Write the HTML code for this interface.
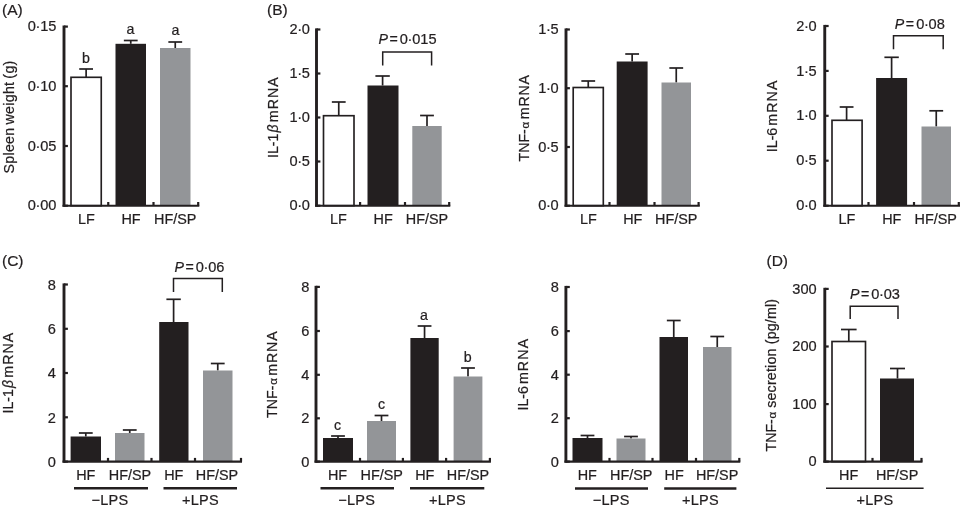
<!DOCTYPE html>
<html><head><meta charset="utf-8"><title>Figure</title>
<style>
html,body{margin:0;padding:0;background:#fff;}
svg{display:block;will-change:transform;opacity:0.999;}
text{font-family:"Liberation Sans",sans-serif;fill:#231f20;stroke:#231f20;stroke-width:0.22px;}
</style></head>
<body>
<svg width="960" height="508" viewBox="0 0 960 508">
<rect x="0" y="0" width="960" height="508" fill="#fff"/>
<text x="2" y="15.2" text-anchor="start" font-size="15.5" >(A)</text>
<line x1="86.125" y1="77.3" x2="86.125" y2="69" stroke="#231f20" stroke-width="1.7"/>
<line x1="79.225" y1="69" x2="93.025" y2="69" stroke="#231f20" stroke-width="1.7"/>
<rect x="71" y="77.3" width="30.25" height="128.4" fill="#fff" stroke="#231f20" stroke-width="1.65"/>
<line x1="130.75" y1="43.8" x2="130.75" y2="40.5" stroke="#231f20" stroke-width="1.7"/>
<line x1="123.85" y1="40.5" x2="137.65" y2="40.5" stroke="#231f20" stroke-width="1.7"/>
<rect x="115.5" y="43.8" width="30.5" height="161.9" fill="#231f20"/>
<line x1="175.25" y1="48" x2="175.25" y2="42" stroke="#231f20" stroke-width="1.7"/>
<line x1="168.35" y1="42" x2="182.15" y2="42" stroke="#231f20" stroke-width="1.7"/>
<rect x="160" y="48" width="30.5" height="157.7" fill="#939598"/>
<line x1="64" y1="25.5" x2="64" y2="206.75" stroke="#231f20" stroke-width="2.9"/>
<line x1="62.55" y1="205.7" x2="199.3" y2="205.7" stroke="#231f20" stroke-width="2.1"/>
<line x1="64" y1="26.6" x2="67.9" y2="26.6" stroke="#231f20" stroke-width="2.2"/>
<text x="56.4" y="31.2" text-anchor="end" font-size="14.6" >0<tspan dx="-0.3">·</tspan><tspan dx="-0.3">15</tspan></text>
<line x1="64" y1="86.2" x2="67.9" y2="86.2" stroke="#231f20" stroke-width="2.2"/>
<text x="56.4" y="90.8" text-anchor="end" font-size="14.6" >0<tspan dx="-0.3">·</tspan><tspan dx="-0.3">10</tspan></text>
<line x1="64" y1="146" x2="67.9" y2="146" stroke="#231f20" stroke-width="2.2"/>
<text x="56.4" y="150.6" text-anchor="end" font-size="14.6" >0<tspan dx="-0.3">·</tspan><tspan dx="-0.3">05</tspan></text>
<line x1="64" y1="205.7" x2="67.9" y2="205.7" stroke="#231f20" stroke-width="2.2"/>
<text x="56.4" y="210.3" text-anchor="end" font-size="14.6" >0<tspan dx="-0.3">·</tspan><tspan dx="-0.3">00</tspan></text>
<line x1="108.25" y1="205.7" x2="108.25" y2="202.0" stroke="#231f20" stroke-width="2.2"/>
<line x1="153.5" y1="205.7" x2="153.5" y2="202.0" stroke="#231f20" stroke-width="2.2"/>
<line x1="198.2" y1="205.7" x2="198.2" y2="202.0" stroke="#231f20" stroke-width="2.2"/>
<text x="86.4" y="224.4" text-anchor="middle" font-size="14.4" >LF</text>
<text x="131" y="224.4" text-anchor="middle" font-size="14.4" >HF</text>
<text x="175.3" y="224.4" text-anchor="middle" font-size="14.4" >HF/SP</text>
<text transform="translate(14.2 173.5) rotate(-90)" font-size="14.2"><tspan letter-spacing="0.3" word-spacing="-1.2">Spleen weight (g)</tspan></text>
<text x="86" y="62.5" text-anchor="middle" font-size="14.2" >b</text>
<text x="130.5" y="33.8" text-anchor="middle" font-size="14.2" >a</text>
<text x="175.5" y="35" text-anchor="middle" font-size="14.2" >a</text>
<text x="267" y="15.2" text-anchor="start" font-size="15.5" >(B)</text>
<line x1="338.75" y1="115.7" x2="338.75" y2="102" stroke="#231f20" stroke-width="1.7"/>
<line x1="331.85" y1="102" x2="345.65" y2="102" stroke="#231f20" stroke-width="1.7"/>
<rect x="323.5" y="115.7" width="30.5" height="90.0" fill="#fff" stroke="#231f20" stroke-width="1.65"/>
<line x1="382.6" y1="85.5" x2="382.6" y2="76" stroke="#231f20" stroke-width="1.7"/>
<line x1="375.40000000000003" y1="76" x2="389.8" y2="76" stroke="#231f20" stroke-width="1.7"/>
<rect x="367.5" y="85.5" width="31.0" height="120.2" fill="#231f20"/>
<line x1="427.0" y1="126" x2="427.0" y2="115.5" stroke="#231f20" stroke-width="1.7"/>
<line x1="420.1" y1="115.5" x2="433.9" y2="115.5" stroke="#231f20" stroke-width="1.7"/>
<rect x="412.3" y="126" width="29.4" height="79.7" fill="#939598"/>
<line x1="316.5" y1="28.4" x2="316.5" y2="206.75" stroke="#231f20" stroke-width="2.9"/>
<line x1="315.05" y1="205.7" x2="450.3" y2="205.7" stroke="#231f20" stroke-width="2.1"/>
<line x1="316.5" y1="29.5" x2="320.4" y2="29.5" stroke="#231f20" stroke-width="2.2"/>
<text x="309.9" y="34.1" text-anchor="end" font-size="14.6" >2<tspan dx="-0.3">·</tspan><tspan dx="-0.3">0</tspan></text>
<line x1="316.5" y1="73.5" x2="320.4" y2="73.5" stroke="#231f20" stroke-width="2.2"/>
<text x="309.9" y="78.1" text-anchor="end" font-size="14.6" >1<tspan dx="-0.3">·</tspan><tspan dx="-0.3">5</tspan></text>
<line x1="316.5" y1="117.5" x2="320.4" y2="117.5" stroke="#231f20" stroke-width="2.2"/>
<text x="309.9" y="122.1" text-anchor="end" font-size="14.6" >1<tspan dx="-0.3">·</tspan><tspan dx="-0.3">0</tspan></text>
<line x1="316.5" y1="161.5" x2="320.4" y2="161.5" stroke="#231f20" stroke-width="2.2"/>
<text x="309.9" y="166.1" text-anchor="end" font-size="14.6" >0<tspan dx="-0.3">·</tspan><tspan dx="-0.3">5</tspan></text>
<line x1="316.5" y1="205.7" x2="320.4" y2="205.7" stroke="#231f20" stroke-width="2.2"/>
<text x="309.9" y="210.3" text-anchor="end" font-size="14.6" >0<tspan dx="-0.3">·</tspan><tspan dx="-0.3">0</tspan></text>
<line x1="360.1" y1="205.7" x2="360.1" y2="202.0" stroke="#231f20" stroke-width="2.2"/>
<line x1="405" y1="205.7" x2="405" y2="202.0" stroke="#231f20" stroke-width="2.2"/>
<line x1="449.2" y1="205.7" x2="449.2" y2="202.0" stroke="#231f20" stroke-width="2.2"/>
<text x="338.5" y="224.4" text-anchor="middle" font-size="14.4" >LF</text>
<text x="383.2" y="224.4" text-anchor="middle" font-size="14.4" >HF</text>
<text x="427" y="224.4" text-anchor="middle" font-size="14.4" >HF/SP</text>
<text transform="translate(278.2 158) rotate(-90)" font-size="14.2">IL-1<tspan dx="1.0" font-style="italic" font-size="14">β</tspan> <tspan dx="-1.6" letter-spacing="1.05">mRNA</tspan></text>
<text x="378.4" y="44" font-size="14.2"><tspan font-style="italic">P</tspan><tspan dx="1.6">=</tspan><tspan dx="2.0" font-size="14.6">0<tspan dx="-0.3">·</tspan><tspan dx="-0.3">015</tspan></tspan></text>
<polyline points="382.7,65.4 382.7,52 431.6,52 431.6,65.4" fill="none" stroke="#231f20" stroke-width="1.5"/>
<line x1="588.25" y1="87.5" x2="588.25" y2="81" stroke="#231f20" stroke-width="1.7"/>
<line x1="581.35" y1="81" x2="595.15" y2="81" stroke="#231f20" stroke-width="1.7"/>
<rect x="573.2" y="87.5" width="30.1" height="118.2" fill="#fff" stroke="#231f20" stroke-width="1.65"/>
<line x1="632.1500000000001" y1="61.5" x2="632.1500000000001" y2="54" stroke="#231f20" stroke-width="1.7"/>
<line x1="625.2500000000001" y1="54" x2="639.0500000000001" y2="54" stroke="#231f20" stroke-width="1.7"/>
<rect x="616.7" y="61.5" width="30.9" height="144.2" fill="#231f20"/>
<line x1="676.25" y1="82.5" x2="676.25" y2="68" stroke="#231f20" stroke-width="1.7"/>
<line x1="669.35" y1="68" x2="683.15" y2="68" stroke="#231f20" stroke-width="1.7"/>
<rect x="661.5" y="82.5" width="29.5" height="123.2" fill="#939598"/>
<line x1="566" y1="28.4" x2="566" y2="206.75" stroke="#231f20" stroke-width="2.9"/>
<line x1="564.55" y1="205.7" x2="699.8" y2="205.7" stroke="#231f20" stroke-width="2.1"/>
<line x1="566" y1="29.5" x2="569.9" y2="29.5" stroke="#231f20" stroke-width="2.2"/>
<text x="558.7" y="34.1" text-anchor="end" font-size="14.6" >1<tspan dx="-0.3">·</tspan><tspan dx="-0.3">5</tspan></text>
<line x1="566" y1="88.2" x2="569.9" y2="88.2" stroke="#231f20" stroke-width="2.2"/>
<text x="558.7" y="92.8" text-anchor="end" font-size="14.6" >1<tspan dx="-0.3">·</tspan><tspan dx="-0.3">0</tspan></text>
<line x1="566" y1="147" x2="569.9" y2="147" stroke="#231f20" stroke-width="2.2"/>
<text x="558.7" y="151.6" text-anchor="end" font-size="14.6" >0<tspan dx="-0.3">·</tspan><tspan dx="-0.3">5</tspan></text>
<line x1="566" y1="205.7" x2="569.9" y2="205.7" stroke="#231f20" stroke-width="2.2"/>
<text x="558.7" y="210.3" text-anchor="end" font-size="14.6" >0<tspan dx="-0.3">·</tspan><tspan dx="-0.3">0</tspan></text>
<line x1="609.5" y1="205.7" x2="609.5" y2="202.0" stroke="#231f20" stroke-width="2.2"/>
<line x1="654.5" y1="205.7" x2="654.5" y2="202.0" stroke="#231f20" stroke-width="2.2"/>
<line x1="698.6" y1="205.7" x2="698.6" y2="202.0" stroke="#231f20" stroke-width="2.2"/>
<text x="588.5" y="224.4" text-anchor="middle" font-size="14.4" >LF</text>
<text x="632.8" y="224.4" text-anchor="middle" font-size="14.4" >HF</text>
<text x="676.3" y="224.4" text-anchor="middle" font-size="14.4" >HF/SP</text>
<text transform="translate(528.5 161.5) rotate(-90)" font-size="14.2">TNF-<tspan dx="0.8" font-size="11.5">α</tspan> <tspan dx="-1.5" letter-spacing="0.85">mRNA</tspan></text>
<line x1="846.6" y1="120.3" x2="846.6" y2="107" stroke="#231f20" stroke-width="1.7"/>
<line x1="839.7" y1="107" x2="853.5" y2="107" stroke="#231f20" stroke-width="1.7"/>
<rect x="832" y="120.3" width="30.1" height="85.4" fill="#fff" stroke="#231f20" stroke-width="1.65"/>
<line x1="891.6" y1="78" x2="891.6" y2="57.3" stroke="#231f20" stroke-width="1.7"/>
<line x1="884.4" y1="57.3" x2="898.8000000000001" y2="57.3" stroke="#231f20" stroke-width="1.7"/>
<rect x="876.1" y="78" width="31.0" height="127.7" fill="#231f20"/>
<line x1="936.25" y1="126.5" x2="936.25" y2="110.8" stroke="#231f20" stroke-width="1.7"/>
<line x1="929.35" y1="110.8" x2="943.15" y2="110.8" stroke="#231f20" stroke-width="1.7"/>
<rect x="921.5" y="126.5" width="29.5" height="79.2" fill="#939598"/>
<line x1="824.75" y1="24.9" x2="824.75" y2="206.75" stroke="#231f20" stroke-width="2.9"/>
<line x1="823.3" y1="205.7" x2="960" y2="205.7" stroke="#231f20" stroke-width="2.1"/>
<line x1="824.75" y1="26" x2="828.65" y2="26" stroke="#231f20" stroke-width="2.2"/>
<text x="816.65" y="30.6" text-anchor="end" font-size="14.6" >2<tspan dx="-0.3">·</tspan><tspan dx="-0.3">0</tspan></text>
<line x1="824.75" y1="70.9" x2="828.65" y2="70.9" stroke="#231f20" stroke-width="2.2"/>
<text x="816.65" y="75.5" text-anchor="end" font-size="14.6" >1<tspan dx="-0.3">·</tspan><tspan dx="-0.3">5</tspan></text>
<line x1="824.75" y1="115.8" x2="828.65" y2="115.8" stroke="#231f20" stroke-width="2.2"/>
<text x="816.65" y="120.4" text-anchor="end" font-size="14.6" >1<tspan dx="-0.3">·</tspan><tspan dx="-0.3">0</tspan></text>
<line x1="824.75" y1="160.7" x2="828.65" y2="160.7" stroke="#231f20" stroke-width="2.2"/>
<text x="816.65" y="165.3" text-anchor="end" font-size="14.6" >0<tspan dx="-0.3">·</tspan><tspan dx="-0.3">5</tspan></text>
<line x1="824.75" y1="205.7" x2="828.65" y2="205.7" stroke="#231f20" stroke-width="2.2"/>
<text x="816.65" y="210.3" text-anchor="end" font-size="14.6" >0<tspan dx="-0.3">·</tspan><tspan dx="-0.3">0</tspan></text>
<line x1="868.5" y1="205.7" x2="868.5" y2="202.0" stroke="#231f20" stroke-width="2.2"/>
<line x1="914" y1="205.7" x2="914" y2="202.0" stroke="#231f20" stroke-width="2.2"/>
<line x1="958.8" y1="205.7" x2="958.8" y2="202.0" stroke="#231f20" stroke-width="2.2"/>
<text x="847" y="224.4" text-anchor="middle" font-size="14.4" >LF</text>
<text x="891.8" y="224.4" text-anchor="middle" font-size="14.4" >HF</text>
<text x="935.8" y="224.4" text-anchor="middle" font-size="14.4" >HF/SP</text>
<text transform="translate(777.3 152.2) rotate(-90)" font-size="14.2">IL-6 <tspan dx="-2.0" letter-spacing="1.15">mRNA</tspan></text>
<text x="894.8" y="29" font-size="14.2"><tspan font-style="italic">P</tspan><tspan dx="1.6">=</tspan><tspan dx="2.0" font-size="14.6">0<tspan dx="-0.3">·</tspan><tspan dx="-0.3">08</tspan></tspan></text>
<polyline points="893.5,49.2 893.5,35.7 943.2,35.7 943.2,49.2" fill="none" stroke="#231f20" stroke-width="1.5"/>
<text x="2" y="266.0" text-anchor="start" font-size="15.5" >(C)</text>
<line x1="85.8" y1="436.5" x2="85.8" y2="433" stroke="#231f20" stroke-width="1.7"/>
<line x1="78.89999999999999" y1="433" x2="92.7" y2="433" stroke="#231f20" stroke-width="1.7"/>
<rect x="70.6" y="436.5" width="30.4" height="25.1" fill="#231f20"/>
<line x1="129.75" y1="433" x2="129.75" y2="430" stroke="#231f20" stroke-width="1.7"/>
<line x1="122.85" y1="430" x2="136.65" y2="430" stroke="#231f20" stroke-width="1.7"/>
<rect x="115" y="433" width="29.5" height="28.6" fill="#939598"/>
<line x1="173.6" y1="322" x2="173.6" y2="299.3" stroke="#231f20" stroke-width="1.7"/>
<line x1="166.4" y1="299.3" x2="180.79999999999998" y2="299.3" stroke="#231f20" stroke-width="1.7"/>
<rect x="159.2" y="322" width="29.3" height="139.6" fill="#231f20"/>
<line x1="217.75" y1="370.5" x2="217.75" y2="363.5" stroke="#231f20" stroke-width="1.7"/>
<line x1="210.85" y1="363.5" x2="224.65" y2="363.5" stroke="#231f20" stroke-width="1.7"/>
<rect x="203" y="370.5" width="29.5" height="91.1" fill="#939598"/>
<line x1="64" y1="283.4" x2="64" y2="462.65000000000003" stroke="#231f20" stroke-width="2.9"/>
<line x1="62.55" y1="461.6" x2="242" y2="461.6" stroke="#231f20" stroke-width="2.1"/>
<line x1="64" y1="284.5" x2="67.9" y2="284.5" stroke="#231f20" stroke-width="2.2"/>
<text x="55.9" y="289.7" text-anchor="end" font-size="14.6" >8</text>
<line x1="64" y1="328.8" x2="67.9" y2="328.8" stroke="#231f20" stroke-width="2.2"/>
<text x="55.9" y="334.0" text-anchor="end" font-size="14.6" >6</text>
<line x1="64" y1="373" x2="67.9" y2="373" stroke="#231f20" stroke-width="2.2"/>
<text x="55.9" y="378.2" text-anchor="end" font-size="14.6" >4</text>
<line x1="64" y1="417.3" x2="67.9" y2="417.3" stroke="#231f20" stroke-width="2.2"/>
<text x="55.9" y="422.5" text-anchor="end" font-size="14.6" >2</text>
<line x1="64" y1="461.6" x2="67.9" y2="461.6" stroke="#231f20" stroke-width="2.2"/>
<text x="55.9" y="466.8" text-anchor="end" font-size="14.6" >0</text>
<line x1="108" y1="461.6" x2="108" y2="457.90000000000003" stroke="#231f20" stroke-width="2.2"/>
<line x1="151.5" y1="461.6" x2="151.5" y2="457.90000000000003" stroke="#231f20" stroke-width="2.2"/>
<line x1="195" y1="461.6" x2="195" y2="457.90000000000003" stroke="#231f20" stroke-width="2.2"/>
<line x1="241" y1="461.6" x2="241" y2="457.90000000000003" stroke="#231f20" stroke-width="2.2"/>
<text x="85.8" y="480.3" text-anchor="middle" font-size="14.4" >HF</text>
<text x="130" y="480.3" text-anchor="middle" font-size="14.4" >HF/SP</text>
<text x="173.8" y="480.3" text-anchor="middle" font-size="14.4" >HF</text>
<text x="217" y="480.3" text-anchor="middle" font-size="14.4" >HF/SP</text>
<text transform="translate(13.0 413.5) rotate(-90)" font-size="14.2">IL-1<tspan dx="1.0" font-style="italic" font-size="14">β</tspan> <tspan dx="-1.6" letter-spacing="1.05">mRNA</tspan></text>
<line x1="74" y1="488.3" x2="148" y2="488.3" stroke="#231f20" stroke-width="2.4"/>
<line x1="163.5" y1="488.3" x2="237" y2="488.3" stroke="#231f20" stroke-width="2.4"/>
<text x="110.0" y="504.8" text-anchor="middle" font-size="14.5" letter-spacing="0.25">−LPS</text>
<text x="200.4" y="504.8" text-anchor="middle" font-size="14.5" letter-spacing="0.25">+LPS</text>
<text x="174.4" y="271.8" font-size="14.2"><tspan font-style="italic">P</tspan><tspan dx="1.6">=</tspan><tspan dx="2.0" font-size="14.6">0<tspan dx="-0.3">·</tspan><tspan dx="-0.3">06</tspan></tspan></text>
<polyline points="173.5,292 173.5,278.4 222.3,278.4 222.3,292" fill="none" stroke="#231f20" stroke-width="1.5"/>
<line x1="338.0" y1="438" x2="338.0" y2="436" stroke="#231f20" stroke-width="1.7"/>
<line x1="331.1" y1="436" x2="344.9" y2="436" stroke="#231f20" stroke-width="1.7"/>
<rect x="323" y="438" width="30" height="23.6" fill="#231f20"/>
<line x1="381.5" y1="421" x2="381.5" y2="415.5" stroke="#231f20" stroke-width="1.7"/>
<line x1="374.6" y1="415.5" x2="388.4" y2="415.5" stroke="#231f20" stroke-width="1.7"/>
<rect x="367" y="421" width="29" height="40.6" fill="#939598"/>
<line x1="424.54999999999995" y1="338" x2="424.54999999999995" y2="326" stroke="#231f20" stroke-width="1.7"/>
<line x1="417.65" y1="326" x2="431.44999999999993" y2="326" stroke="#231f20" stroke-width="1.7"/>
<rect x="410.4" y="338" width="28.3" height="123.6" fill="#231f20"/>
<line x1="468.0" y1="376.5" x2="468.0" y2="368" stroke="#231f20" stroke-width="1.7"/>
<line x1="461.1" y1="368" x2="474.9" y2="368" stroke="#231f20" stroke-width="1.7"/>
<rect x="453.6" y="376.5" width="28.8" height="85.1" fill="#939598"/>
<line x1="316" y1="285.79999999999995" x2="316" y2="462.65000000000003" stroke="#231f20" stroke-width="2.9"/>
<line x1="314.55" y1="461.6" x2="490.9" y2="461.6" stroke="#231f20" stroke-width="2.1"/>
<line x1="316" y1="286.9" x2="319.9" y2="286.9" stroke="#231f20" stroke-width="2.2"/>
<text x="309.4" y="292.0" text-anchor="end" font-size="14.6" >8</text>
<line x1="316" y1="331" x2="319.9" y2="331" stroke="#231f20" stroke-width="2.2"/>
<text x="309.4" y="336.1" text-anchor="end" font-size="14.6" >6</text>
<line x1="316" y1="374.8" x2="319.9" y2="374.8" stroke="#231f20" stroke-width="2.2"/>
<text x="309.4" y="379.9" text-anchor="end" font-size="14.6" >4</text>
<line x1="316" y1="418.3" x2="319.9" y2="418.3" stroke="#231f20" stroke-width="2.2"/>
<text x="309.4" y="423.4" text-anchor="end" font-size="14.6" >2</text>
<line x1="316" y1="461.6" x2="319.9" y2="461.6" stroke="#231f20" stroke-width="2.2"/>
<text x="309.4" y="466.7" text-anchor="end" font-size="14.6" >0</text>
<line x1="360" y1="461.6" x2="360" y2="457.90000000000003" stroke="#231f20" stroke-width="2.2"/>
<line x1="402.9" y1="461.6" x2="402.9" y2="457.90000000000003" stroke="#231f20" stroke-width="2.2"/>
<line x1="446.1" y1="461.6" x2="446.1" y2="457.90000000000003" stroke="#231f20" stroke-width="2.2"/>
<line x1="489.9" y1="461.6" x2="489.9" y2="457.90000000000003" stroke="#231f20" stroke-width="2.2"/>
<text x="337.5" y="480.3" text-anchor="middle" font-size="14.4" >HF</text>
<text x="381.8" y="480.3" text-anchor="middle" font-size="14.4" >HF/SP</text>
<text x="424.8" y="480.3" text-anchor="middle" font-size="14.4" >HF</text>
<text x="468.0" y="480.3" text-anchor="middle" font-size="14.4" >HF/SP</text>
<text transform="translate(277.0 417.9) rotate(-90)" font-size="14.2">TNF-<tspan dx="0.8" font-size="11.5">α</tspan> <tspan dx="-1.5" letter-spacing="0.85">mRNA</tspan></text>
<line x1="320.5" y1="488.3" x2="394" y2="488.3" stroke="#231f20" stroke-width="2.4"/>
<line x1="410" y1="488.3" x2="484.3" y2="488.3" stroke="#231f20" stroke-width="2.4"/>
<text x="356.7" y="504.8" text-anchor="middle" font-size="14.5" letter-spacing="0.25">−LPS</text>
<text x="447.4" y="504.8" text-anchor="middle" font-size="14.5" letter-spacing="0.25">+LPS</text>
<text x="337.5" y="429.5" text-anchor="middle" font-size="14.2" >c</text>
<text x="381.5" y="408.5" text-anchor="middle" font-size="14.2" >c</text>
<text x="424" y="320" text-anchor="middle" font-size="14.2" >a</text>
<text x="467.8" y="361.5" text-anchor="middle" font-size="14.2" >b</text>
<line x1="587.5" y1="438" x2="587.5" y2="435.5" stroke="#231f20" stroke-width="1.7"/>
<line x1="580.6" y1="435.5" x2="594.4" y2="435.5" stroke="#231f20" stroke-width="1.7"/>
<rect x="572.5" y="438" width="30.0" height="23.6" fill="#231f20"/>
<line x1="631.0" y1="438.5" x2="631.0" y2="436.5" stroke="#231f20" stroke-width="1.7"/>
<line x1="624.1" y1="436.5" x2="637.9" y2="436.5" stroke="#231f20" stroke-width="1.7"/>
<rect x="616.5" y="438.5" width="29.0" height="23.1" fill="#939598"/>
<line x1="673.75" y1="337" x2="673.75" y2="320.5" stroke="#231f20" stroke-width="1.7"/>
<line x1="666.85" y1="320.5" x2="680.65" y2="320.5" stroke="#231f20" stroke-width="1.7"/>
<rect x="659.5" y="337" width="28.5" height="124.6" fill="#231f20"/>
<line x1="717.25" y1="347" x2="717.25" y2="336.5" stroke="#231f20" stroke-width="1.7"/>
<line x1="710.35" y1="336.5" x2="724.15" y2="336.5" stroke="#231f20" stroke-width="1.7"/>
<rect x="703" y="347" width="28.5" height="114.6" fill="#939598"/>
<line x1="565.9" y1="285.9" x2="565.9" y2="462.65000000000003" stroke="#231f20" stroke-width="2.9"/>
<line x1="564.4499999999999" y1="461.6" x2="740.3" y2="461.6" stroke="#231f20" stroke-width="2.1"/>
<line x1="565.9" y1="287" x2="569.8" y2="287" stroke="#231f20" stroke-width="2.2"/>
<text x="558.9" y="292.1" text-anchor="end" font-size="14.6" >8</text>
<line x1="565.9" y1="331.1" x2="569.8" y2="331.1" stroke="#231f20" stroke-width="2.2"/>
<text x="558.9" y="336.2" text-anchor="end" font-size="14.6" >6</text>
<line x1="565.9" y1="374.7" x2="569.8" y2="374.7" stroke="#231f20" stroke-width="2.2"/>
<text x="558.9" y="379.8" text-anchor="end" font-size="14.6" >4</text>
<line x1="565.9" y1="418.2" x2="569.8" y2="418.2" stroke="#231f20" stroke-width="2.2"/>
<text x="558.9" y="423.3" text-anchor="end" font-size="14.6" >2</text>
<line x1="565.9" y1="461.6" x2="569.8" y2="461.6" stroke="#231f20" stroke-width="2.2"/>
<text x="558.9" y="466.7" text-anchor="end" font-size="14.6" >0</text>
<line x1="609.5" y1="461.6" x2="609.5" y2="457.90000000000003" stroke="#231f20" stroke-width="2.2"/>
<line x1="652.5" y1="461.6" x2="652.5" y2="457.90000000000003" stroke="#231f20" stroke-width="2.2"/>
<line x1="696" y1="461.6" x2="696" y2="457.90000000000003" stroke="#231f20" stroke-width="2.2"/>
<line x1="739.3" y1="461.6" x2="739.3" y2="457.90000000000003" stroke="#231f20" stroke-width="2.2"/>
<text x="587.3" y="480.3" text-anchor="middle" font-size="14.4" >HF</text>
<text x="631.3" y="480.3" text-anchor="middle" font-size="14.4" >HF/SP</text>
<text x="674.1" y="480.3" text-anchor="middle" font-size="14.4" >HF</text>
<text x="717.1" y="480.3" text-anchor="middle" font-size="14.4" >HF/SP</text>
<text transform="translate(527.6 410.5) rotate(-90)" font-size="14.2">IL-6 <tspan dx="-2.0" letter-spacing="1.15">mRNA</tspan></text>
<line x1="575" y1="488.5" x2="648" y2="488.5" stroke="#231f20" stroke-width="2.4"/>
<line x1="664.2" y1="488.5" x2="736.4" y2="488.5" stroke="#231f20" stroke-width="2.4"/>
<text x="611.2" y="504.8" text-anchor="middle" font-size="14.5" letter-spacing="0.25">−LPS</text>
<text x="700.5" y="504.8" text-anchor="middle" font-size="14.5" letter-spacing="0.25">+LPS</text>
<text x="766.5" y="266.0" text-anchor="start" font-size="15.5" >(D)</text>
<line x1="848.8" y1="341.5" x2="848.8" y2="329.5" stroke="#231f20" stroke-width="1.7"/>
<line x1="841.0" y1="329.5" x2="856.5999999999999" y2="329.5" stroke="#231f20" stroke-width="1.7"/>
<rect x="832" y="341.5" width="33.5" height="120.1" fill="#fff" stroke="#231f20" stroke-width="1.65"/>
<line x1="897.5" y1="378.5" x2="897.5" y2="368.5" stroke="#231f20" stroke-width="1.7"/>
<line x1="890.0" y1="368.5" x2="905.0" y2="368.5" stroke="#231f20" stroke-width="1.7"/>
<rect x="880" y="378.5" width="34" height="83.1" fill="#231f20"/>
<line x1="824.8" y1="287.79999999999995" x2="824.8" y2="462.65000000000003" stroke="#231f20" stroke-width="2.9"/>
<line x1="823.3499999999999" y1="461.6" x2="922.5" y2="461.6" stroke="#231f20" stroke-width="2.1"/>
<line x1="824.8" y1="288.9" x2="828.6999999999999" y2="288.9" stroke="#231f20" stroke-width="2.2"/>
<text x="816.7" y="293.7" text-anchor="end" font-size="14.6" >300</text>
<line x1="824.8" y1="346.5" x2="828.6999999999999" y2="346.5" stroke="#231f20" stroke-width="2.2"/>
<text x="816.7" y="351.3" text-anchor="end" font-size="14.6" >200</text>
<line x1="824.8" y1="404.1" x2="828.6999999999999" y2="404.1" stroke="#231f20" stroke-width="2.2"/>
<text x="816.7" y="408.9" text-anchor="end" font-size="14.6" >100</text>
<line x1="824.8" y1="461.6" x2="828.6999999999999" y2="461.6" stroke="#231f20" stroke-width="2.2"/>
<text x="816.7" y="466.4" text-anchor="end" font-size="14.6" >0</text>
<line x1="872.5" y1="461.6" x2="872.5" y2="457.90000000000003" stroke="#231f20" stroke-width="2.2"/>
<line x1="921.5" y1="461.6" x2="921.5" y2="457.90000000000003" stroke="#231f20" stroke-width="2.2"/>
<text x="848.7" y="480.3" text-anchor="middle" font-size="14.4" >HF</text>
<text x="897.1" y="480.3" text-anchor="middle" font-size="14.4" >HF/SP</text>
<text transform="translate(776.3 451.5) rotate(-90)" font-size="14.2">TNF-<tspan dx="0.8" font-size="11.5">α</tspan> <tspan letter-spacing="0.2">secretion (pg/ml)</tspan></text>
<line x1="826" y1="488.2" x2="923.6" y2="488.2" stroke="#231f20" stroke-width="1.6"/>
<text x="875.0" y="504.8" text-anchor="middle" font-size="14.5" letter-spacing="0.25">+LPS</text>
<text x="849.9" y="298.8" font-size="14.2"><tspan font-style="italic">P</tspan><tspan dx="1.6">=</tspan><tspan dx="2.0" font-size="14.6">0<tspan dx="-0.3">·</tspan><tspan dx="-0.3">03</tspan></tspan></text>
<polyline points="850.2,319 850.2,306.2 898,306.2 898,319" fill="none" stroke="#231f20" stroke-width="1.5"/>
</svg>
</body></html>
